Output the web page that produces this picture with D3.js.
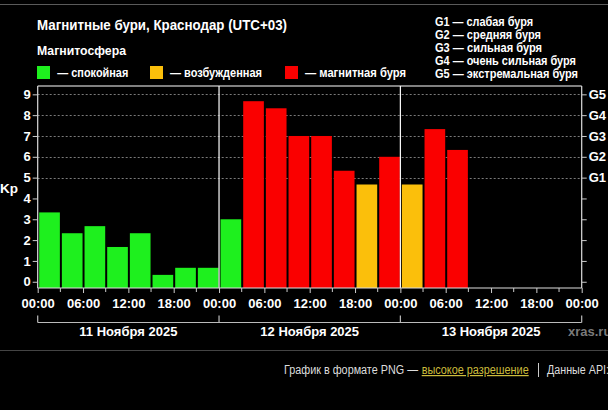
<!DOCTYPE html>
<html>
<head>
<meta charset="utf-8">
<script src="https://cdn.jsdelivr.net/npm/d3@7"></script>
<style>
  html, body { margin: 0; padding: 0; background: #000; }
  svg { display: block; font-family: "Liberation Sans", Arial, sans-serif; }
</style>
</head>
<body>
<svg id="chart" width="608" height="410"></svg>
<script>
// ---- data ----
const startTime = "2025-11-11T00:00:00Z";
const endTime = "2025-11-14T00:00:00Z";
const kpValues = [3.33, 2.33, 2.67, 1.67, 2.33, 0.33, 0.67, 0.67,
                  3.00, 8.67, 8.33, 7.00, 7.00, 5.33, 4.67, 6.00,
                  4.67, 7.33, 6.33];
const kpStatus = ["quiet","quiet","quiet","quiet","quiet","quiet","quiet","quiet",
                  "quiet","storm","storm","storm","storm","storm","active","storm",
                  "active","storm","storm"];
const dayLabels = ["11 Ноября 2025", "12 Ноября 2025", "13 Ноября 2025"];
const yTicks = [0, 1, 2, 3, 4, 5, 6, 7, 8, 9];
const gLevels = ["G1", "G2", "G3", "G4", "G5"];
const gLevelKp = [5, 6, 7, 8, 9];
const gDescriptions = ["G1 — слабая буря", "G2 — средняя буря", "G3 — сильная буря",
                       "G4 — очень сильная буря", "G5 — экстремальная буря"];
const legendItems = ["— спокойная", "— возбужденная", "— магнитная буря"];
const legendKeys = ["quiet", "active", "storm"];
const colorMap = { quiet: "#1ef01e", active: "#fbbf0b", storm: "#fa0000" };

// ---- layout ----
const svg = d3.select("#chart");
const L = 37.7, R = 581.7, T = 86, B = 288;
const t0 = new Date(startTime), t1 = new Date(endTime);
const x = d3.scaleUtc().domain([t0, t1]).range([L, R]);
const y = d3.scaleLinear().domain([-0.3, 9.4]).range([B, T]);
const stepMs = 3 * 3600 * 1000;
const barTimes = kpValues.map((_, i) => new Date(t0.getTime() + i * stepMs));

function fitText(sel, w) {
  return sel.attr("textLength", w).attr("lengthAdjust", "spacingAndGlyphs");
}

svg.append("rect").attr("width", 608).attr("height", 410).attr("fill", "#000");

// top and footer separator lines
svg.append("line").attr("x1", 0).attr("x2", 608).attr("y1", 4.5).attr("y2", 4.5)
  .attr("stroke", "#5a5a5a").attr("stroke-width", 1);
svg.append("line").attr("x1", 0).attr("x2", 608).attr("y1", 350.5).attr("y2", 350.5)
  .attr("stroke", "#444").attr("stroke-width", 1);

// title & legend
fitText(svg.append("text").attr("x", 37).attr("y", 30).attr("fill", "#fff")
  .attr("font-size", 14).attr("font-weight", "bold").text("Магнитные бури, Краснодар (UTC+03)"), 250);
fitText(svg.append("text").attr("x", 37).attr("y", 55).attr("fill", "#fff")
  .attr("font-size", 13).attr("font-weight", "bold").text("Магнитосфера"), 89);

const legX = [37, 150, 285];
const legTextX = [57.3, 170, 305];
const legTextW = [71, 92, 101];
legendKeys.forEach((k, i) => {
  svg.append("rect").attr("x", legX[i]).attr("y", 66).attr("width", 13).attr("height", 13)
    .attr("fill", colorMap[k]);
  fitText(svg.append("text").attr("x", legTextX[i]).attr("y", 77).attr("fill", "#fff")
    .attr("font-size", 12).attr("font-weight", "bold").text(legendItems[i]), legTextW[i]);
});

const gDescW = [98, 106, 107, 141, 143];
gDescriptions.forEach((d, i) => {
  fitText(svg.append("text").attr("x", 435).attr("y", 25.6 + i * 13.2).attr("fill", "#fff")
    .attr("font-size", 12).attr("font-weight", "bold").text(d), gDescW[i]);
});

// gridlines (dotted) for G levels
svg.append("g").selectAll("line").data(gLevelKp).join("line")
  .attr("x1", L).attr("x2", R)
  .attr("y1", d => Math.round(y(d)) + 0.5).attr("y2", d => Math.round(y(d)) + 0.5)
  .attr("stroke", "#7a7a7a").attr("stroke-width", 1).attr("stroke-dasharray", "2,2");

// bars
const slotW = x(new Date(t0.getTime() + stepMs)) - x(t0);
svg.append("g").selectAll("rect").data(kpValues).join("rect")
  .attr("x", (d, i) => x(barTimes[i]) + 1.5)
  .attr("width", slotW - 2)
  .attr("y", d => y(d))
  .attr("height", d => B - y(d))
  .attr("fill", (d, i) => colorMap[kpStatus[i]]);

// frame
svg.append("line").attr("x1", L).attr("x2", R).attr("y1", T).attr("y2", T)
  .attr("stroke", "#fff").attr("stroke-width", 1.2);

// day separators
const dayStarts = d3.utcDay.range(t0, t1);
svg.append("g").selectAll("line").data(dayStarts.slice(1)).join("line")
  .attr("x1", d => x(d)).attr("x2", d => x(d)).attr("y1", T).attr("y2", B)
  .attr("stroke", "#fff").attr("stroke-width", 1.2);

// left axis
const yAxisL = d3.axisLeft(y).tickValues(yTicks).tickSize(5).tickPadding(2).tickFormat(d3.format("d"));
const gL = svg.append("g").attr("transform", `translate(${L},0)`).call(yAxisL);
gL.select(".domain").attr("stroke", "#ddd").attr("stroke-width", 1.2).attr("d", `M0,${T}V${B}`);
gL.selectAll(".tick line").attr("stroke", "#ccc");
gL.selectAll(".tick text").attr("fill", "#fff").attr("font-size", 13).attr("font-weight", "bold")
  .attr("font-family", "Liberation Sans, Arial, sans-serif");

// right axis
const yAxisR = d3.axisRight(y).tickValues(yTicks).tickSize(5).tickPadding(2)
  .tickFormat(d => { const k = gLevelKp.indexOf(d); return k >= 0 ? gLevels[k] : ""; });
const gR = svg.append("g").attr("transform", `translate(${R},0)`).call(yAxisR);
gR.select(".domain").attr("stroke", "#ddd").attr("stroke-width", 1.2).attr("d", `M0,${T}V${B}`);
gR.selectAll(".tick line").attr("stroke", "#ccc");
gR.selectAll(".tick text").attr("fill", "#fff").attr("font-size", 13).attr("font-weight", "bold")
  .attr("font-family", "Liberation Sans, Arial, sans-serif");

// Kp label
svg.append("text").attr("x", 0).attr("y", 193).attr("fill", "#fff")
  .attr("font-size", 13.5).attr("font-weight", "bold").text("Kp");

// bottom axis
const xAxis = d3.axisBottom(x).ticks(d3.utcHour.every(6)).tickSize(5).tickPadding(6)
  .tickFormat(d3.utcFormat("%H:%M"));
const gX = svg.append("g").attr("transform", `translate(0,${B})`).call(xAxis);
gX.select(".domain").attr("stroke", "#ddd").attr("stroke-width", 1.2).attr("d", `M${L},0H${R}`);
gX.selectAll(".tick line").attr("stroke", "#ccc");
gX.selectAll(".tick text").attr("fill", "#fff").attr("font-size", 13).attr("font-weight", "bold")
  .attr("font-family", "Liberation Sans, Arial, sans-serif");
// minor 3h ticks
svg.append("g").selectAll("line").data(d3.utcHour.every(3).range(t0, t1).filter(d => d.getUTCHours() % 6 === 3))
  .join("line").attr("x1", d => x(d)).attr("x2", d => x(d)).attr("y1", B).attr("y2", B + 4)
  .attr("stroke", "#ccc");

// day bracket
const bY = 322.5;
svg.append("line").attr("x1", L).attr("x2", R).attr("y1", bY).attr("y2", bY)
  .attr("stroke", "#bbb").attr("stroke-width", 1.2);
svg.append("g").selectAll("line").data(dayStarts.concat([t1])).join("line")
  .attr("x1", d => x(d)).attr("x2", d => x(d)).attr("y1", bY - 7).attr("y2", bY)
  .attr("stroke", "#bbb").attr("stroke-width", 1.2);
svg.append("g").selectAll("text").data(dayStarts).join("text")
  .attr("x", d => x(new Date(d.getTime() + 12 * 3600 * 1000)))
  .attr("y", 336).attr("text-anchor", "middle").attr("fill", "#fff")
  .attr("font-size", 13).attr("font-weight", "bold").text((d, i) => dayLabels[i]);

svg.append("text").attr("x", 568).attr("y", 336).attr("fill", "#7a7a7a")
  .attr("font-size", 13).attr("font-weight", "bold").text("xras.ru");

// footer
fitText(svg.append("text").attr("x", 284).attr("y", 374).attr("font-size", 12).attr("fill", "#ddd")
  .text("График в формате PNG —"), 134);
fitText(svg.append("text").attr("x", 421.7).attr("y", 374).attr("font-size", 12).attr("fill", "#cdbd3c")
  .attr("text-decoration", "underline").text("высокое разрешение"), 107);
svg.append("line").attr("x1", 538.5).attr("x2", 538.5).attr("y1", 363).attr("y2", 377)
  .attr("stroke", "#ccc").attr("stroke-width", 1);
fitText(svg.append("text").attr("x", 547).attr("y", 374).attr("font-size", 12).attr("fill", "#ddd")
  .text("Данные API:"), 62);
</script>
</body>
</html>
